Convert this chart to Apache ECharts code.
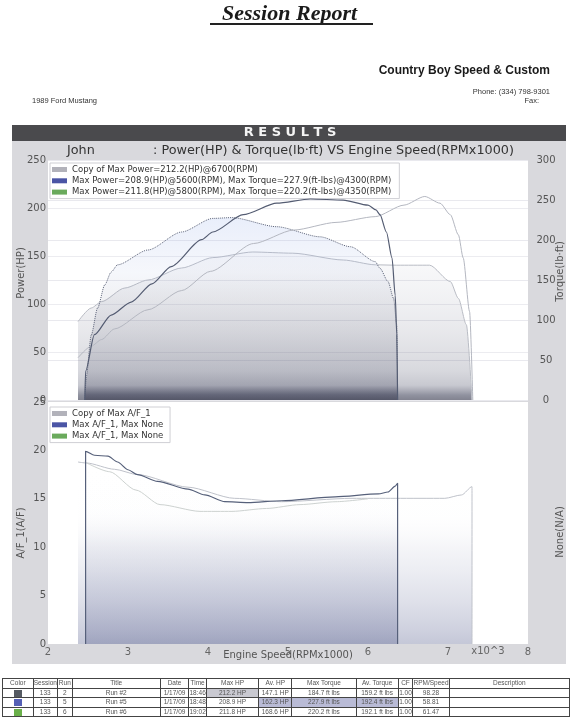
<!DOCTYPE html>
<html><head><meta charset="utf-8">
<script src="https://cdn.jsdelivr.net/npm/echarts@6/dist/echarts.min.js"></script>
<style>
body{margin:0;width:570px;height:720px;background:#fff;position:relative;overflow:hidden;font-family:"Liberation Sans",Arial,sans-serif;color:#222}
.abs{position:absolute;white-space:nowrap}
#chart{position:absolute;left:0;top:0;width:570px;height:720px}
#tbl{position:absolute;left:2px;top:678px;border-collapse:collapse;table-layout:fixed;font-size:6.5px;color:#555;font-family:"Liberation Sans",Arial,sans-serif}
#tbl td{border:1px solid #444;height:8.5px;padding:0;text-align:center;line-height:8px;overflow:hidden;white-space:nowrap}
.sw{display:inline-block;width:8px;height:7px;vertical-align:middle}
</style></head>
<body>
<div id="chart"></div>
<div class="abs" style="left:222px;top:0px;font:italic bold 22px 'Liberation Serif',serif;color:#1a1a1a">Session Report</div>
<div class="abs" style="left:210px;top:23px;width:163px;height:1.5px;background:#222"></div>
<div class="abs" style="right:20px;top:63px;font:bold 12px 'Liberation Sans',Arial,sans-serif;color:#1a1a1a">Country Boy Speed &amp; Custom</div>
<div class="abs" style="right:20px;top:87px;font:7.5px 'Liberation Sans',Arial,sans-serif;color:#333">Phone: (334) 798-9301</div>
<div class="abs" style="right:31px;top:96px;font:7.5px 'Liberation Sans',Arial,sans-serif;color:#333">Fax:</div>
<div class="abs" style="left:32px;top:96px;font:7.5px 'Liberation Sans',Arial,sans-serif;color:#333">1989 Ford Mustang</div>
<table id="tbl"></table>
<script>
// ---- top chart data (RPM x1000) ----
const run2PowRpm = [2.375, 2.54, 2.67, 2.83, 3.25, 3.67, 4.03, 4.57, 5.07, 5.6, 6.09, 6.45, 6.71, 6.9, 7.03, 7.13, 7.19, 7.27, 7.31];
const run2PowHp  = [44, 56, 63, 74, 94, 114, 134, 163, 177, 185, 191, 203, 212, 205, 193, 172, 148, 92, 0];
const run2TqRpm  = [2.375, 2.54, 2.67, 2.96, 3.25, 3.67, 4.06, 4.56, 5.06, 5.69, 6.09, 6.36, 6.77, 7.03, 7.13, 7.23, 7.3];
const run2TqLbft = [98, 115, 123, 140, 150, 165, 178, 185, 183.5, 175, 169, 168.5, 168.5, 148, 127, 94, 0];
const run5PowRpm = [2.46, 2.47, 2.58, 2.79, 3.04, 3.3, 3.54, 3.92, 4.06, 4.44, 4.86, 5.28, 5.69, 6.0, 6.1, 6.15, 6.23, 6.3, 6.34, 6.36, 6.37];
const run5PowHp  = [0, 30, 68, 88.5, 102, 121, 139, 167, 175, 193, 205, 209.4, 208.3, 203, 198, 193, 175, 148, 109, 68, 0];
const run5TqRpm  = [2.46, 2.48, 2.54, 2.62, 2.71, 2.79, 2.87, 3.25, 3.67, 4.06, 4.3, 4.86, 5.4, 5.78, 6.09, 6.15, 6.25, 6.32, 6.36, 6.37];
const run5TqLbft = [0, 30, 81, 115, 144, 160, 169, 187.5, 210, 227, 228, 216.6, 204, 191.6, 173, 164.6, 148, 127, 94, 0];
const run6PowRpm = [];
const run6PowHp  = [];
// ---- bottom chart data ----
const run2AfRpm = [2.375, 2.48, 2.83, 3.12, 3.75, 4.33, 4.92, 5.8, 6.34, 6.96, 7.17, 7.3, 7.3];
const run2Af    = [18.8, 18.7, 18.05, 17.5, 16.2, 15.05, 14.7, 15.05, 15.05, 15.05, 15.4, 16.25, 0];
const run5AfRpm = [2.47, 2.47, 2.58, 2.75, 2.87, 3.0, 3.12, 3.37, 3.75, 3.96, 4.21, 4.5, 4.92, 5.59, 6.13, 6.25, 6.34, 6.37, 6.37];
const run5Af    = [0, 19.9, 19.5, 19.4, 18.8, 18.0, 17.5, 16.8, 16.0, 15.4, 14.7, 14.6, 14.8, 15.2, 15.5, 15.7, 16.3, 16.6, 0];
const run6AfRpm = [2.46, 2.77, 3.1, 3.4, 3.9, 4.3, 4.73, 5.15, 5.6, 6.0];
const run6Af    = [18.8, 17.8, 15.9, 14.4, 13.7, 13.7, 14.0, 14.4, 14.7, 15.0];
// ---- labels ----
const topLegend = ['Copy of Max Power=212.2(HP)@6700(RPM)',
  'Max Power=208.9(HP)@5600(RPM), Max Torque=227.9(ft-lbs)@4300(RPM)',
  'Max Power=211.8(HP)@5800(RPM), Max Torque=220.2(ft-lbs)@4350(RPM)'];
const botLegend = ['Copy of Max A/F_1', 'Max A/F_1, Max None', 'Max A/F_1, Max None '];
const legendColors = ['#b2b2ba', '#4b55a5', '#6aaa5c'];
const tableHeader = ['Color','Session','Run','Title','Date','Time','Max HP','Av. HP','Max Torque','Av. Torque','CF','RPM/Speed','Description'];
const tableRows = [
  ['', '133','2','Run #2','1/17/09','18:46','212.2 HP','147.1 HP','184.7 ft lbs','159.2 ft lbs','1.00','98.28',''],
  ['', '133','5','Run #5','1/17/09','18:48','208.9 HP','162.3 HP','227.9 ft lbs','192.4 ft lbs','1.00','58.81',''],
  ['', '133','6','Run #6','1/17/09','19:02','211.8 HP','168.6 HP','220.2 ft lbs','192.1 ft lbs','1.00','61.47','']];
const rowSwatch = ['#555a62', '#5560b5', '#6ab04a'];

// ---- table ----
const colW = [31,20,15,89,29,17,53,33,65,42,15,33,122];
const hl = {'0-6':'#c9c9d1','1-7':'#b9bbd6','1-8':'#b9bbd6','1-9':'#b9bbd6'};
let html = '<colgroup>' + colW.map(w=>'<col style="width:'+w+'px">').join('') + '</colgroup>';
html += '<tr>' + tableHeader.map(h=>'<td>'+h+'</td>').join('') + '</tr>';
tableRows.forEach((r,ri)=>{
  html += '<tr>' + r.map((c,ci)=>{
    const bg = hl[ri+'-'+ci] ? ' style="background:'+hl[ri+'-'+ci]+'"' : '';
    if (ci===0) return '<td><span class="sw" style="background:'+rowSwatch[ri]+'"></span></td>';
    return '<td'+bg+'>'+c+'</td>';
  }).join('') + '</tr>';
});
document.getElementById('tbl').innerHTML = html;

// ---- chart ----
const pairs = (xs, ys) => xs.map((x,i)=>[x, ys[i]]);
const grad = stops => ({type:'linear', x:0, y:0, x2:0, y2:1, colorStops: stops.map(s=>({offset:s[0], color:s[1]}))});
const FONT = 'DejaVu Sans';
const chart = echarts.init(document.getElementById('chart'), null, {renderer:'canvas'});
const baseLine = {type:'line', symbol:'none', showSymbol:false, smooth:0.25, smoothMonotone:'x', silent:true};
const topRun5Fill = grad([[0,'rgba(150,175,235,0.3)'],[0.3,'rgba(170,185,225,0.16)'],[0.45,'rgba(110,115,140,0.14)'],[0.62,'rgba(100,103,125,0.21)'],[0.73,'rgba(95,98,120,0.27)'],[0.84,'rgba(95,98,120,0.35)'],[0.92,'rgba(90,93,115,0.48)'],[0.97,'rgba(70,73,95,0.85)'],[1,'rgba(60,62,82,0.92)']]);
const topRun2Fill = grad([[0,'rgba(200,202,215,0.12)'],[0.32,'rgba(110,115,140,0.14)'],[0.53,'rgba(100,103,125,0.21)'],[0.66,'rgba(95,98,120,0.27)'],[0.8,'rgba(95,98,120,0.35)'],[0.9,'rgba(90,93,115,0.48)'],[0.966,'rgba(70,73,95,0.85)'],[1,'rgba(60,62,82,0.92)']]);
const botFill = grad([[0,'rgba(255,255,255,0)'],[0.3,'rgba(200,205,225,0.02)'],[0.47,'rgba(110,118,160,0.1)'],[0.6,'rgba(110,118,160,0.19)'],[0.77,'rgba(110,118,160,0.32)'],[0.92,'rgba(105,112,155,0.46)'],[1,'rgba(100,108,150,0.54)']]);
const nameStyle = extra => Object.assign({fontFamily:FONT, fontSize:10, color:'#555'}, extra);
chart.setOption({
  animation:false,
  backgroundColor:'transparent',
  title:[
    {text:'John', left:67, top:144, padding:0, textStyle:{fontFamily:FONT, fontSize:12.8, fontWeight:'normal', color:'#333'}},
    {text:': Power(HP) & Torque(lb·ft) VS Engine Speed(RPMx1000)', left:153, top:144, padding:0, textStyle:{fontFamily:FONT, fontSize:12.8, fontWeight:'normal', color:'#333'}}
  ],
  graphic:[
    {type:'rect', z:-100, shape:{x:12, y:125, width:554, height:539}, style:{fill:'#d9d9dd'}},
    {type:'rect', z:-99, shape:{x:12, y:125, width:554, height:16}, style:{fill:'#4a4a4d'}},
    {type:'text', z:10, x:290, y:133, style:{text:'R E S U L T S', fill:'#f4f4f4', font:'bold 13px "DejaVu Sans"', textAlign:'center', textVerticalAlign:'middle'}},
    {type:'text', z:10, x:488, y:651, style:{text:'x10^3', fill:'#666', font:'10px "DejaVu Sans"', textAlign:'center', textVerticalAlign:'middle'}}
  ],
  legend:[
    {data: topLegend.map((n,i)=>({name:n, itemStyle:{color:legendColors[i]}})),
     orient:'vertical', left:50, top:163, icon:'rect', itemWidth:15, itemHeight:5, itemGap:2.3,
     padding:[2,8,2,2], backgroundColor:'#fff', borderColor:'#cfcfd4', borderWidth:1, selectedMode:false,
     textStyle:{fontFamily:FONT, fontSize:8.5, color:'#333', lineHeight:9}},
    {data: botLegend.map((n,i)=>({name:n, itemStyle:{color:legendColors[i]}})),
     orient:'vertical', left:50, top:407, icon:'rect', itemWidth:15, itemHeight:5, itemGap:2.3,
     padding:[2,4,2,2], backgroundColor:'#fff', borderColor:'#cfcfd4', borderWidth:1, selectedMode:false,
     textStyle:{fontFamily:FONT, fontSize:8.5, color:'#333', lineHeight:9}}
  ],
  grid:[
    {left:48, right:42, top:160, height:240, show:true, backgroundColor:'#fff', borderWidth:0, containLabel:false, outerBoundsMode:'none'},
    {left:48, right:42, top:402, height:242, show:true, backgroundColor:'#fff', borderWidth:0, containLabel:false, outerBoundsMode:'none'}
  ],
  xAxis:[
    {gridIndex:0, type:'value', min:2, max:8, interval:1, axisLabel:{show:false}, axisLine:{show:false}, axisTick:{show:false}, splitLine:{show:false}},
    {gridIndex:1, type:'value', min:2, max:8, interval:1, axisLine:{show:false}, axisTick:{show:false}, splitLine:{show:false},
     axisLabel:{fontFamily:FONT, fontSize:10, color:'#666', margin:3},
     name:'Engine Speed(RPMx1000)', nameLocation:'middle', nameGap:6, nameMoveOverlap:false, nameTextStyle:nameStyle({})}
  ],
  yAxis:[
    {gridIndex:0, type:'value', min:0, max:250, interval:50, position:'left', axisLine:{show:false}, axisTick:{show:false},
     splitLine:{lineStyle:{color:'#ececf0'}}, axisLabel:{fontFamily:FONT, fontSize:10, color:'#555', margin:2},
     name:'Power(HP)', nameLocation:'middle', nameGap:22, nameRotate:90, nameMoveOverlap:false, nameTextStyle:nameStyle({padding:[0,0,0,14]})},
    {gridIndex:0, type:'value', min:0, max:300, interval:50, position:'right', axisLine:{show:false}, axisTick:{show:false},
     splitLine:{show:true, lineStyle:{color:'#e9e9ee'}}, axisLabel:{fontFamily:FONT, fontSize:10, color:'#555', margin:18, align:'center'},
     name:'Torque(lb·ft)', nameLocation:'middle', nameGap:27, nameRotate:90, nameMoveOverlap:false, nameTextStyle:nameStyle({padding:[0,0,0,17]})},
    {gridIndex:1, type:'value', min:0, max:25, interval:5, position:'left', axisLine:{show:false}, axisTick:{show:false},
     splitLine:{show:false}, axisLabel:{fontFamily:FONT, fontSize:10, color:'#555', margin:2},
     name:'A/F_1(A/F)', nameLocation:'middle', nameGap:22, nameRotate:90, nameMoveOverlap:false, nameTextStyle:nameStyle({padding:[0,20,0,0]})},
    {gridIndex:1, type:'value', min:0, max:1, position:'right', axisLine:{show:false}, axisTick:{show:false},
     splitLine:{show:false}, axisLabel:{show:false},
     name:'None(N/A)', nameLocation:'middle', nameGap:27, nameRotate:90, nameMoveOverlap:false, nameTextStyle:nameStyle({padding:[0,18,0,0]})}
  ],
  series:[
    Object.assign({}, baseLine, {name:topLegend[0], xAxisIndex:0, yAxisIndex:1, data:pairs(run2TqRpm, run2TqLbft), z:2,
      lineStyle:{color:'#b9bcc4', width:1}, areaStyle:{color:topRun2Fill}}),
    Object.assign({}, baseLine, {name:topLegend[1], xAxisIndex:0, yAxisIndex:1, data:pairs(run5TqRpm, run5TqLbft), z:3,
      lineStyle:{color:'#5d6479', width:1, type:'dotted'}, areaStyle:{color:topRun5Fill}}),
    Object.assign({}, baseLine, {name:topLegend[0], xAxisIndex:0, yAxisIndex:0, data:pairs(run2PowRpm, run2PowHp), z:4,
      lineStyle:{color:'#b4b7c0', width:1}}),
    Object.assign({}, baseLine, {name:topLegend[1], xAxisIndex:0, yAxisIndex:0, data:pairs(run5PowRpm, run5PowHp), z:5,
      lineStyle:{color:'#545c72', width:1.2}}),
    Object.assign({}, baseLine, {name:topLegend[2], xAxisIndex:0, yAxisIndex:0, data:pairs(run6PowRpm, run6PowHp), z:5,
      lineStyle:{color:'#8fbf80', width:1}}),
    Object.assign({}, baseLine, {name:botLegend[0], xAxisIndex:1, yAxisIndex:2, data:pairs(run2AfRpm, run2Af), z:2,
      lineStyle:{color:'#bfc2ca', width:1}, areaStyle:{color:botFill}}),
    Object.assign({}, baseLine, {name:botLegend[1], xAxisIndex:1, yAxisIndex:2, data:pairs(run5AfRpm, run5Af), z:3,
      lineStyle:{color:'#56607a', width:1.2}, areaStyle:{color:botFill}}),
    Object.assign({}, baseLine, {name:botLegend[2], xAxisIndex:1, yAxisIndex:2, data:pairs(run6AfRpm, run6Af), z:2,
      lineStyle:{color:'#cdd2d0', width:1}})
  ]
});
</script>
</body></html>
